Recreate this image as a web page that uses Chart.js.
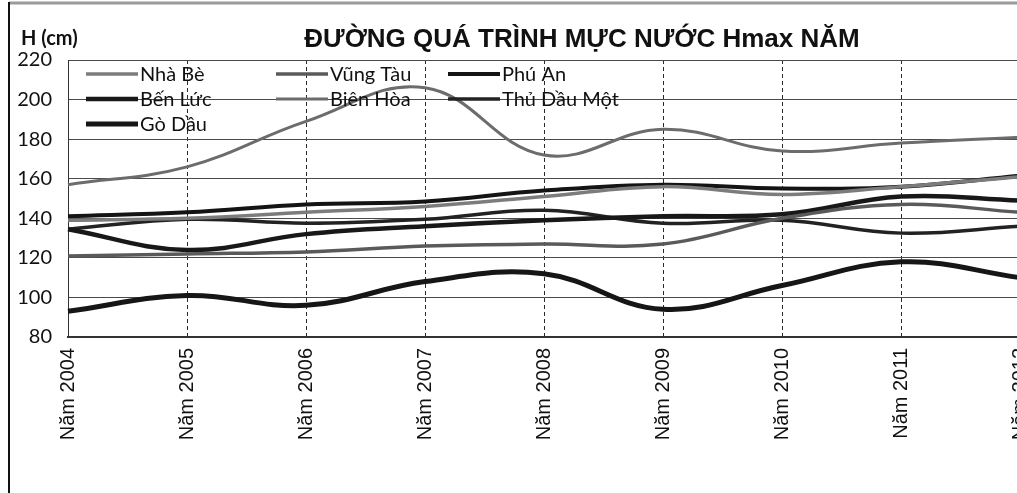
<!DOCTYPE html>
<html>
<head>
<meta charset="utf-8">
<script src="https://cdn.jsdelivr.net/npm/chart.js@4.4.1/dist/chart.umd.min.js"></script>
<style>
    html, body { margin: 0; padding: 0; background: #fff; overflow: hidden; }
    #wrap { position: relative; width: 1055px; height: 493px; }
</style>
</head>
<body>
<div id="wrap"><canvas id="hmaxChart" width="1055" height="493"></canvas></div>
<script>
// Năm (trục hoành)
const years = ['Năm 2004', 'Năm 2005', 'Năm 2006', 'Năm 2007', 'Năm 2008', 'Năm 2009', 'Năm 2010', 'Năm 2011', 'Năm 2012'];

// Hmax từng trạm (cm)
const nhaBe     = [139, 140, 143, 146, 151, 156, 152, 156, 161];
const vungTau   = [121, 122, 123, 126, 127, 127, 140, 147, 143];
const phuAn     = [141, 143, 147, 148.5, 154, 157, 155, 156, 161.5];
const benLuc    = [134.5, 124, 132, 136, 139, 141, 142, 151, 149];
const bienHoa   = [157, 166, 189, 206, 172, 185, 174, 178, 181];
const thuDauMot = [134.5, 139.5, 137.5, 139.5, 144, 137.5, 139, 132.5, 136];
const goDau     = [93, 101, 96, 108, 112, 94, 106, 118, 110];

// Trục tung
const yMin = 80;
const yMax = 220;
const yStep = 20;

const chartTitle = 'ĐƯỜNG QUÁ TRÌNH MỰC NƯỚC Hmax NĂM';
const yTitle = 'H (cm)';

// Khung, tiêu đề và chú giải vẽ tay (chú giải nằm trong vùng vẽ như bản gốc)
const decorPlugin = {
    id: 'decor',
    beforeDraw(chart) {
        const ctx = chart.ctx;
        ctx.save();
        ctx.fillStyle = '#fff';
        ctx.fillRect(0, 0, chart.width, chart.height);
        ctx.restore();
    },
    afterDatasetsDraw(chart) {
        const ctx = chart.ctx;
        ctx.save();

        // viền ngoài
        ctx.strokeStyle = '#9a9a9a';
        ctx.lineWidth = 3;
        ctx.beginPath();
        ctx.moveTo(9, 3);
        ctx.lineTo(chart.width, 3);
        ctx.stroke();
        ctx.strokeStyle = '#111';
        ctx.lineWidth = 2;
        ctx.beginPath();
        ctx.moveTo(9, 2);
        ctx.lineTo(9, chart.height);
        ctx.stroke();

        // tiêu đề
        ctx.fillStyle = '#111';
        ctx.textBaseline = 'alphabetic';
        ctx.textAlign = 'center';
        ctx.font = 'bold 26px "Liberation Sans", Arial, sans-serif';
        ctx.fillText(chartTitle, 582, 47);

        ctx.textAlign = 'left';
        ctx.font = 'bold 20px Lato, "Open Sans", sans-serif';
        ctx.fillText(yTitle, 21, 45);

        // chú giải
        const cols = [86, 276, 448];
        const rows = [74, 99, 124];
        ctx.font = '20px Lato, "Open Sans", sans-serif';
        ctx.textBaseline = 'middle';
        chart.data.datasets.forEach((ds, i) => {
            const x = cols[i % 3];
            const y = rows[Math.floor(i / 3)];
            ctx.strokeStyle = ds.borderColor;
            ctx.lineWidth = ds.borderWidth;
            ctx.beginPath();
            ctx.moveTo(x, y);
            ctx.lineTo(x + 52, y);
            ctx.stroke();
            ctx.fillStyle = '#111';
            ctx.fillText(ds.label, x + 54, y + 1);
        });

        ctx.restore();
    }
};

const ctx = document.getElementById('hmaxChart');

new Chart(ctx, {
    type: 'line',
    data: {
        labels: years,
        datasets: [
            { label: 'Nhà Bè',      data: nhaBe,     borderColor: '#7c7c7c', borderWidth: 3.5 },
            { label: 'Vũng Tàu',    data: vungTau,   borderColor: '#5a5a5a', borderWidth: 3.5 },
            { label: 'Phú An',      data: phuAn,     borderColor: '#141414', borderWidth: 4 },
            { label: 'Bến Lức',     data: benLuc,    borderColor: '#181818', borderWidth: 4.5 },
            { label: 'Biên Hòa',    data: bienHoa,   borderColor: '#6c6c6c', borderWidth: 3 },
            { label: 'Thủ Dầu Một', data: thuDauMot, borderColor: '#222222', borderWidth: 3.5 },
            { label: 'Gò Dầu',      data: goDau,     borderColor: '#161616', borderWidth: 5 }
        ].map(ds => Object.assign(ds, {
            tension: 0.4,
            pointRadius: 0,
            fill: false
        }))
    },
    options: {
        responsive: false,
        animation: false,
        layout: {
            padding: { top: 60, left: 8, right: 10, bottom: 0 }
        },
        plugins: {
            legend: { display: false },
            title: { display: false },
            tooltip: { enabled: false }
        },
        scales: {
            x: {
                offset: false,
                afterFit: (axis) => { axis.height = 156; },
                grid: {
                    color: '#2a2a2a',
                    lineWidth: 1,
                    drawTicks: false
                },
                // trong v4, border.dash áp dụng cho đường lưới
                border: { display: true, color: '#333', width: 2, dash: [4, 3] },
                ticks: {
                    minRotation: 90,
                    maxRotation: 90,
                    autoSkip: false,
                    padding: 11,
                    color: '#111',
                    font: { family: '"Liberation Sans", Arial, sans-serif', size: 20 }
                }
            },
            y: {
                min: yMin,
                max: yMax,
                afterFit: (axis) => { axis.width = 60; },
                grid: {
                    color: '#4a4a4a',
                    lineWidth: 1,
                    drawTicks: false
                },
                border: { display: true, color: '#333', width: 1 },
                ticks: {
                    stepSize: yStep,
                    padding: 16,
                    color: '#111',
                    font: { family: 'Lato, "Open Sans", sans-serif', size: 20 }
                }
            }
        }
    },
    plugins: [decorPlugin]
});
</script>
</body>
</html>
